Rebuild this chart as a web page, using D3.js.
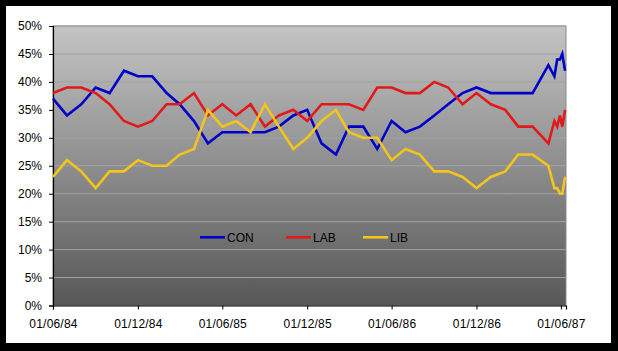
<!DOCTYPE html>
<html>
<head>
<meta charset="utf-8">
<script src="https://cdn.jsdelivr.net/npm/d3@7"></script>
<style>
  html, body { margin: 0; padding: 0; background: #000; }
  svg { display: block; }
  text { font-family: Arial, 'Liberation Sans', sans-serif; fill: #000; }
</style>
</head>
<body>
<div id="chart"></div>
<script>
// monthly poll averages, then the campaign polls
const dates = [
  '1984-06-01', '1984-07-01', '1984-08-01', '1984-09-01', '1984-10-01', '1984-11-01',
  '1984-12-01', '1985-01-01', '1985-02-01', '1985-03-01', '1985-04-01', '1985-05-01',
  '1985-06-01', '1985-07-01', '1985-08-01', '1985-09-01', '1985-10-01', '1985-11-01',
  '1985-12-01', '1986-01-01', '1986-02-01', '1986-03-01', '1986-04-01', '1986-05-01',
  '1986-06-01', '1986-07-01', '1986-08-01', '1986-09-01', '1986-10-01', '1986-11-01',
  '1986-12-01', '1987-01-01', '1987-02-01', '1987-03-01', '1987-04-01', '1987-05-05',
  '1987-05-18', '1987-05-24', '1987-05-30', '1987-06-04', '1987-06-10'
]
const con = [37, 34, 36, 39, 38, 42, 41, 41, 38, 36, 33, 29,
  31, 31, 31, 31, 32, 34, 35, 29, 27, 32, 32, 28,
  33, 31, 32, 34, 36, 38, 39, 38, 38, 38, 38, 43,
  41, 44, 44, 45, 42]
const lab = [38, 39, 39, 38, 36, 33, 32, 33, 36, 36, 38, 34,
  36, 34, 36, 32, 34, 35, 33, 36, 36, 36, 35, 39,
  39, 38, 38, 40, 39, 36, 38, 36, 35, 32, 32, 29,
  33, 32, 34, 32, 35]
const lib = [23, 26, 24, 21, 24, 24, 26, 25, 25, 27, 28, 35,
  32, 33, 31, 36, 32, 28, 30, 33, 35, 31, 30, 30,
  26, 28, 27, 24, 24, 23, 21, 23, 24, 27, 27, 25,
  21, 21, 20, 20, 23]
const seriesNames = ['CON', 'LAB', 'LIB']
const seriesColors = ['#0000c8', '#e01a1a', '#f2c41c']
const xTicks = ['1984-06-01', '1984-12-01', '1985-06-01', '1985-12-01', '1986-06-01', '1986-12-01', '1987-06-01']
const yTicks = [0, 5, 10, 15, 20, 25, 30, 35, 40, 45, 50]

const fullWidth = 618,
  fullHeight = 351,
  margin = { top: 26, right: 52, bottom: 45.5, left: 53 },
  width = fullWidth - margin.left - margin.right,
  height = fullHeight - margin.top - margin.bottom

const parse = d3.timeParse('%Y-%m-%d'),
  fmt = d3.timeFormat('%d/%m/%y')

const x = d3.scaleTime()
  .domain([parse('1984-06-01'), parse('1987-06-12')])
  .range([0, width])

const y = d3.scaleLinear()
  .domain([0, 50])
  .range([height, 0])

const svg = d3.select('#chart')
  .append('svg')
  .attr('width', fullWidth)
  .attr('height', fullHeight)

// black frame with white chart area
svg.append('rect')
  .attr('width', fullWidth).attr('height', fullHeight)
  .attr('fill', '#000')
svg.append('rect')
  .attr('x', 6).attr('y', 6)
  .attr('width', 605).attr('height', 337)
  .attr('fill', '#fff')

const grad = svg.append('defs')
  .append('linearGradient')
  .attr('id', 'bg')
  .attr('x1', 0).attr('y1', 0).attr('x2', 0).attr('y2', 1)
grad.append('stop').attr('offset', '0%').attr('stop-color', '#c4c4c4')
grad.append('stop').attr('offset', '100%').attr('stop-color', '#575757')

const g = svg.append('g')
  .attr('transform', `translate(${margin.left}, ${margin.top})`)

g.append('rect')
  .attr('width', width).attr('height', height)
  .attr('fill', 'url(#bg)')
  .attr('stroke', '#8a8a8a')

// gridlines
g.selectAll('.grid')
  .data(yTicks.filter(d => d > 0))
  .enter()
  .append('line')
  .attr('class', 'grid')
  .attr('x1', 0).attr('x2', width)
  .attr('y1', d => y(d)).attr('y2', d => y(d))
  .attr('stroke', '#a2a2a2')
  .attr('stroke-width', 1)

// axes
const yAxis = g.append('g')
  .call(d3.axisLeft(y)
    .tickValues(yTicks)
    .tickSize(4)
    .tickPadding(7)
    .tickFormat(d => d + '%'))
const xAxis = g.append('g')
  .attr('transform', `translate(0, ${height})`)
  .call(d3.axisBottom(x)
    .tickValues(xTicks.map(parse))
    .tickSize(4)
    .tickPadding(8)
    .tickFormat(fmt))

;[yAxis, xAxis].forEach(a => {
  a.select('.domain').attr('stroke', '#000').attr('stroke-width', 1.2)
  a.selectAll('.tick line').attr('stroke', '#000')
  a.selectAll('text')
    .style('font-size', '12px')
    .style('font-family', "Arial, 'Liberation Sans', sans-serif")
    .attr('fill', '#000')
})
xAxis.selectAll('text').attr('dy', '0.9em').style('letter-spacing', '0.2px')

// series
const series = [con, lab, lib].map((vals, i) => ({
  name: seriesNames[i],
  color: seriesColors[i],
  values: vals.map((v, j) => ({ date: parse(dates[j]), value: v }))
}))

const line = d3.line()
  .x(d => x(d.date))
  .y(d => y(d.value))

g.selectAll('.series')
  .data(series)
  .enter()
  .append('path')
  .attr('class', 'series')
  .attr('d', d => line(d.values))
  .attr('fill', 'none')
  .attr('stroke', d => d.color)
  .attr('stroke-width', 2.6)
  .attr('stroke-linejoin', 'miter')

// legend inside the plot
const legendX = [147, 233, 310]
const legend = g.selectAll('.legend')
  .data(series)
  .enter()
  .append('g')
  .attr('class', 'legend')
  .attr('transform', (d, i) => `translate(${legendX[i]}, ${y(12.2)})`)

legend.append('line')
  .attr('x1', 0).attr('x2', 25)
  .attr('stroke', d => d.color)
  .attr('stroke-width', 2.6)

legend.append('text')
  .attr('x', 27)
  .attr('dy', '0.35em')
  .style('font-size', '12px')
  .text(d => d.name)
</script>
</body>
</html>
